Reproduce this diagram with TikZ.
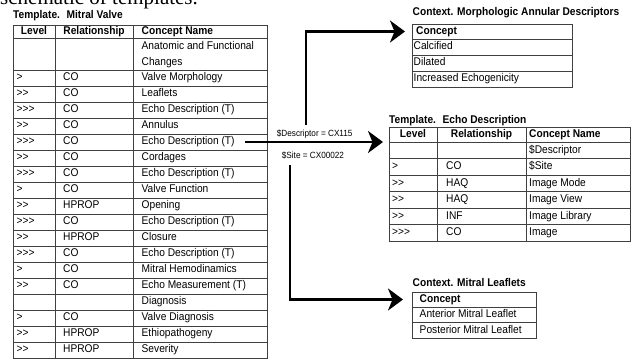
\documentclass[tikz,border=0pt]{standalone}
\usepackage{fontspec}
\setmainfont{Liberation Sans}[Ligatures=TeXOff, FakeStretch=0.91]
\newfontfamily\headserif{Liberation Serif}
\usetikzlibrary{arrows.meta}
\begin{document}
\begin{tikzpicture}[x=1pt,y=-1pt,
  tline/.style={draw=black!75, line width=0.7pt},
  tblframe/.style={draw=black!75, line width=0.7pt, rectangle, inner sep=0pt, outer sep=0pt, anchor=north west},
  txt/.style={inner sep=0pt, text height=8.1pt, text depth=2.3pt, font=\fontsize{11.2}{13}\selectfont},
  cell/.style={txt, anchor=west},
  hd/.style={txt, font=\fontsize{11.2}{13}\selectfont\bfseries},
  ttl/.style={hd, anchor=west},
  lbl/.style={inner sep=0pt, anchor=west, font=\fontsize{9}{11}\selectfont},
  conn/.style={line width=2.8pt, -{Stealth[length=15pt, width=22pt, inset=4.5pt]}},
]
\useasboundingbox (0,0) rectangle (632,360);
\clip (0,0) rectangle (632,360);

% cut-off heading at the top
\node[anchor=base west, inner sep=0pt, font=\headserif\fontsize{21}{24}\selectfont] (heading) at (0,4) {schematic of templates.};

% ---------------- Template. Mitral Valve ----------------
\node[ttl] (mvt) at (13,15.5) {Template.~ Mitral Valve};
\node[tblframe, minimum width=254pt, minimum height=333pt] (mv) at (13,25) {};
\draw[tline] (55,25) -- (55,358) (133,25) -- (133,358)
             (13,38.5) -- (267,38.5) (13,70) -- (267,70);
\node[hd] (mvh1) at (34,31.75) {Level};
\node[hd] (mvh2) at (94,31.75) {Relationship};
\node[hd, anchor=west] (mvh3) at (141.5,31.75) {Concept Name};
\node[cell] (mva1) at (141.5,46.5) {Anatomic and Functional};
\node[cell] (mva2) at (141.5,62.5) {Changes};
\foreach \lv/\rl/\cn [count=\i from 0] in {
  {>}/{CO}/{Valve Morphology},
  {>>}/{CO}/{Leaflets},
  {>>>}/{CO}/{Echo Description (T)},
  {>>}/{CO}/{Annulus},
  {>>>}/{CO}/{Echo Description (T)},
  {>>}/{CO}/{Cordages},
  {>>>}/{CO}/{Echo Description (T)},
  {>}/{CO}/{Valve Function},
  {>>}/{HPROP}/{Opening},
  {>>>}/{CO}/{Echo Description (T)},
  {>>}/{HPROP}/{Closure},
  {>>>}/{CO}/{Echo Description (T)},
  {>}/{CO}/{Mitral Hemodinamics},
  {>>}/{CO}/{Echo Measurement (T)},
  {}/{}/{Diagnosis},
  {>}/{CO}/{Valve Diagnosis},
  {>>}/{HPROP}/{Ethiopathogeny},
  {>>}/{HPROP}/{Severity}} {
  \pgfmathsetmacro\yc{78+16*\i}
  \node[cell] (mvl\i) at (16.5,\yc) {\lv};
  \node[cell] (mvr\i) at (63,\yc) {\rl};
  \node[cell] (mvc\i) at (141.5,\yc) {\cn};
  \draw[tline] (13,\yc+8) -- (267,\yc+8);
}

% ---------------- Context. Morphologic Annular Descriptors ----------------
\node[ttl] (madt) at (412.5,13) {Context. Morphologic Annular Descriptors};
\node[tblframe, minimum width=160pt, minimum height=63pt] (mad) at (412,24) {};
\draw[tline] (412,39) -- (572,39) (412,55) -- (572,55) (412,71) -- (572,71);
\node[hd, anchor=west] (madh) at (416,31.5) {Concept};
\node[cell] (mad1) at (413.5,47) {Calcified};
\node[cell] (mad2) at (413.5,63) {Dilated};
\node[cell] (mad3) at (413.5,79) {Increased Echogenicity};

% ---------------- Template. Echo Description ----------------
\node[ttl] (edt) at (389,121) {Template.~ Echo Description};
\node[tblframe, minimum width=241pt, minimum height=114pt] (ed) at (389,127) {};
\draw[tline] (437,127) -- (437,241) (526,127) -- (526,241) (389,142) -- (630,142);
\node[hd] (edh1) at (413,134.5) {Level};
\node[hd] (edh2) at (481.5,134.5) {Relationship};
\node[hd, anchor=west] (edh3) at (529,134.5) {Concept Name};
\foreach \lv/\rl/\cn [count=\i from 0] in {
  {}/{}/{\$Descriptor},
  {>}/{CO}/{\$Site},
  {>>}/{HAQ}/{Image Mode},
  {>>}/{HAQ}/{Image View},
  {>>}/{INF}/{Image Library},
  {>>>}/{CO}/{Image}} {
  \pgfmathsetmacro\yc{150.25+16.5*\i}
  \node[cell] (edl\i) at (392,\yc) {\lv};
  \node[cell] (edr\i) at (446,\yc) {\rl};
  \node[cell] (edc\i) at (529,\yc) {\cn};
  \draw[tline] (389,\yc+8.25) -- (630,\yc+8.25);
}

% ---------------- Context. Mitral Leaflets ----------------
\node[ttl] (mlt) at (412.5,284) {Context. Mitral Leaflets};
\node[tblframe, minimum width=124pt, minimum height=46pt] (ml) at (412,292) {};
\draw[tline] (412,307) -- (536,307) (412,322.5) -- (536,322.5);
\node[hd, anchor=west] (mlh) at (419.5,299.5) {Concept};
\node[cell] (ml1) at (419.5,314.75) {Anterior Mitral Leaflet};
\node[cell] (ml2) at (419.5,330.25) {Posterior Mitral Leaflet};

% ---------------- labels and connectors ----------------
\node[lbl] (desc) at (276.7,134) {\$Descriptor = CX115};
\node[lbl] (site) at (281.7,155) {\$Site = CX00022};
\coordinate (topstart) at (306,125);
\coordinate (botstart) at (290,165);
\draw[conn, shorten >=7pt] (topstart) |- (mad.west |- madh);
\draw[conn, shorten >=6pt] ([xshift=10pt]mvc4.east) -- (mvc4.east -| ed.west);
\draw[conn, shorten >=9pt] (botstart) |- (ml.west |- mlh);
\end{tikzpicture}
\end{document}
